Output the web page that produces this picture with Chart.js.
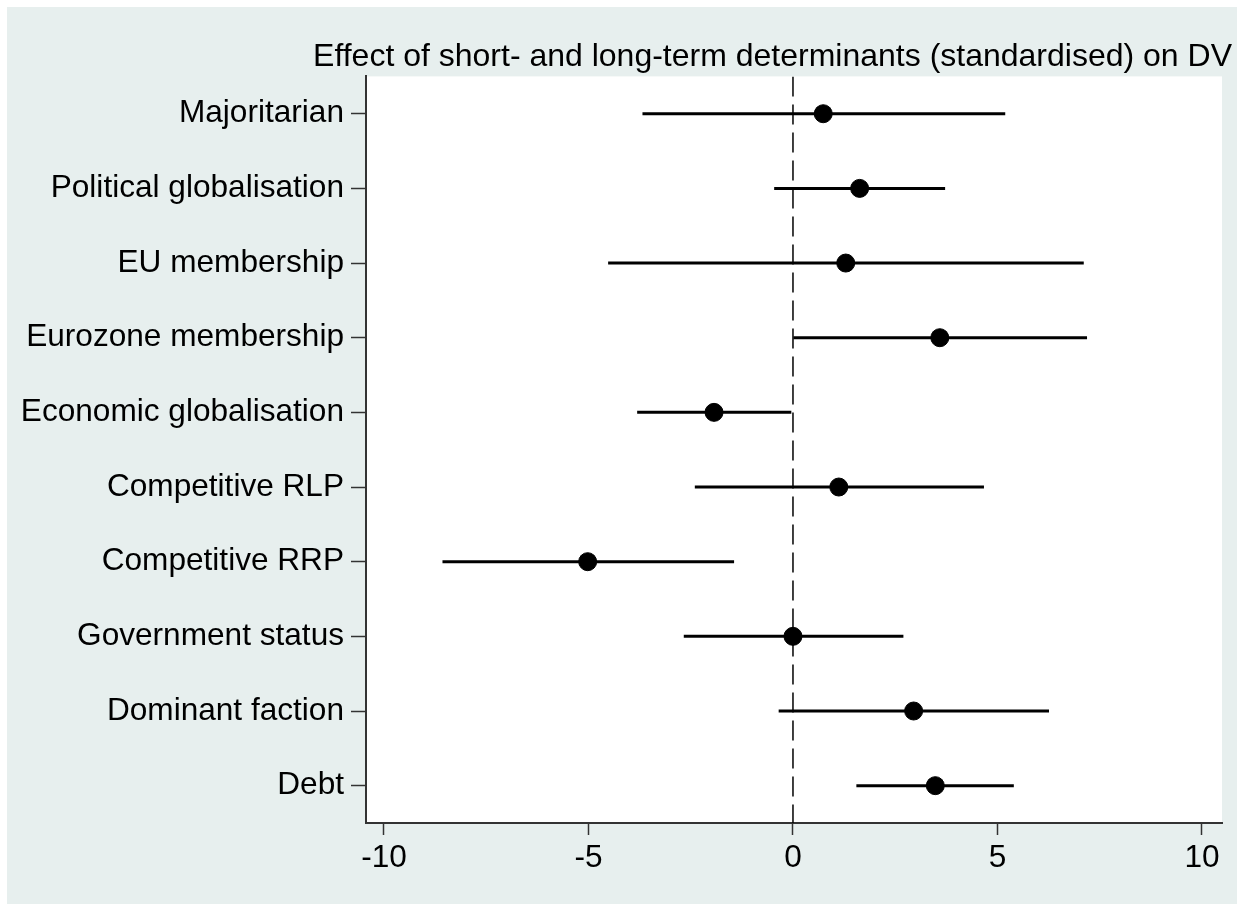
<!DOCTYPE html>
<html>
<head>
<meta charset="utf-8">
<script src="https://cdn.jsdelivr.net/npm/chart.js@4.4.1/dist/chart.umd.min.js"></script>
<style>
  html, body { margin: 0; padding: 0; background: #ffffff; overflow: hidden; }
  #wrap { position: absolute; left: 7px; top: 7px; width: 1230px; height: 897px; background: #e7efee; }
</style>
</head>
<body>
<div id="wrap"><canvas id="grafico" width="1230" height="897"></canvas></div>
<script>
const categorias = ["Majoritarian", "Political globalisation", "EU membership", "Eurozone membership",
    "Economic globalisation", "Competitive RLP", "Competitive RRP", "Government status",
    "Dominant faction", "Debt"];
const estimaciones = [0.74, 1.63, 1.29, 3.59, -1.93, 1.12, -5.02, 0.0, 2.95, 3.48];
const limiteInf = [-3.68, -0.46, -4.52, 0.01, -3.81, -2.40, -8.57, -2.67, -0.35, 1.55];
const limiteSup = [5.19, 3.72, 7.11, 7.19, -0.04, 4.67, -1.44, 2.70, 6.26, 5.40];
const ticksX = [-10, -5, 0, 5, 10];

const fuente = { family: "'Liberation Sans', Arial, Helvetica, sans-serif", size: 31.6 };

const puntos = estimaciones.map((v, i) => ({ x: v, y: i + 1 }));

// un segmento por intervalo de confianza
const intervalos = categorias.map((c, i) => ({
    label: "IC " + c,
    data: [{ x: limiteInf[i], y: i + 1 }, { x: limiteSup[i], y: i + 1 }],
    showLine: true,
    borderColor: "#000000",
    borderWidth: 3,
    pointRadius: 0
}));

const fondoArea = {
    id: "fondoArea",
    beforeDraw(chart) {
        const { ctx, chartArea } = chart;
        ctx.save();
        ctx.fillStyle = "#ffffff";
        ctx.fillRect(chartArea.left, chartArea.top, chartArea.right - chartArea.left, chartArea.bottom - chartArea.top);
        ctx.restore();
    }
};

const ctx = document.getElementById("grafico").getContext("2d");
const grafico = new Chart(ctx, {
    type: "scatter",
    data: {
        datasets: [
            {
                label: "cero",
                data: [{ x: 0, y: 0.5 }, { x: 0, y: 10.5 }],
                showLine: true,
                borderColor: "#000000",
                borderWidth: 1.5,
                borderDash: [20, 8],
                pointRadius: 0
            },
            ...intervalos,
            {
                label: "Estimacion",
                data: puntos,
                backgroundColor: "#000000",
                borderColor: "#000000",
                pointRadius: 9,
                pointHoverRadius: 9
            }
        ]
    },
    options: {
        responsive: false,
        animation: false,
        layout: { padding: { left: 0, right: 5, top: 0, bottom: 0 } },
        plugins: {
            legend: { display: false },
            tooltip: { enabled: false },
            title: {
                display: true,
                text: "Effect of short- and long-term determinants (standardised) on DV",
                align: "end",
                color: "#000000",
                font: { family: fuente.family, size: 32, weight: "normal" },
                padding: { top: 31, bottom: 0 }
            }
        },
        scales: {
            x: {
                type: "linear",
                min: -10.44,
                max: 10.49,
                afterBuildTicks: s => { s.ticks = ticksX.map(v => ({ value: v })); },
                afterFit: s => { s.height = 81; },
                grid: { drawOnChartArea: false, drawTicks: true, tickLength: 12, tickColor: "#333333", tickWidth: 1.5 },
                border: { display: true, color: "#333333", width: 2 },
                ticks: { color: "#000000", font: fuente, padding: 4, maxRotation: 0 }
            },
            y: {
                type: "linear",
                reverse: true,
                min: 0.5,
                max: 10.5,
                afterBuildTicks: s => { s.ticks = categorias.map((c, i) => ({ value: i + 1 })); },
                afterFit: s => { s.width = 359; },
                grid: { drawOnChartArea: false, drawTicks: true, tickLength: 15, tickColor: "#333333", tickWidth: 1.5 },
                border: { display: true, color: "#333333", width: 2 },
                ticks: {
                    color: "#000000",
                    font: fuente,
                    padding: 7,
                    callback: v => categorias[Math.round(v) - 1]
                }
            },
            derecha: {
                type: "linear",
                position: "right",
                display: true,
                grid: { display: false, drawTicks: false },
                border: { display: false },
                ticks: { display: false },
                afterFit: s => { s.width = 10; }
            }
        }
    },
    plugins: [fondoArea]
});
</script>
</body>
</html>
